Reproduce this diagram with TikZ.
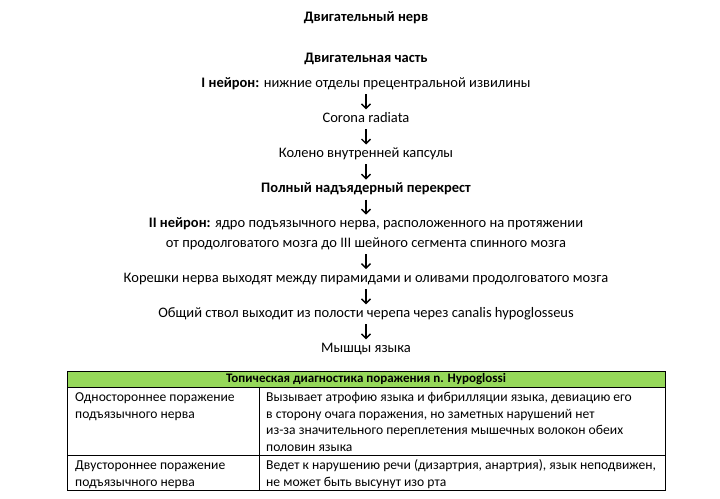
\documentclass[tikz,border=0pt]{standalone}
\usepackage{fontspec}
\setmainfont{Carlito}
\usetikzlibrary{positioning,arrows.meta}
\definecolor{headgreen}{HTML}{96D85A}

\begin{document}
\begin{tikzpicture}[x=1pt, y=-1pt, node distance={21.7pt},
  main/.style = {font=\fontsize{14.5}{19}\selectfont, inner sep=0pt, align=center, text height=10pt, text depth=3pt},
  head/.style = {main, font=\fontsize{14.5}{19}\selectfont\bfseries},
  arr/.style = {-{Straight Barb[length=4.5pt,width=9pt]}, line width=1.4pt, shorten <=3.5pt, shorten >=3pt},
  cell/.style = {font=\fontsize{13.6}{16.5}\selectfont, inner sep=0pt, align=left, anchor=north west},
  grid/.style = {line width=0.9pt}]
\useasboundingbox (0,0) rectangle (720,498);

% motor path
\node[head] (title) at (366,17.5) {Двигательный нерв};
\node[head] (part) at (366,59) {Двигательная часть};
\node[main] (n1) at (366,84) {\textbf{I нейрон:} нижние отделы прецентральной извилины};
\node[main] (n2) [below=of n1] {Corona radiata};
\node[main] (n3) [below=of n2] {Колено внутренней капсулы};
\node[main] (n4) [below=of n3] {\textbf{Полный надъядерный перекрест}};
\node[main] (n5) [below=of n4] {\textbf{II нейрон:} ядро подъязычного нерва, расположенного на протяжении};
\node[main] (n5b) [below=6pt of n5] {от продолговатого мозга до III шейного сегмента спинного мозга};
\node[main] (n6) [below=of n5b] {Корешки нерва выходят между пирамидами и оливами продолговатого мозга};
\node[main] (n7) [below=of n6] {Общий ствол выходит из полости черепа через canalis hypoglosseus};
\node[main] (n8) [below=of n7] {Мышцы языка};

\draw[arr] (n1) -- (n2);
\draw[arr] (n2) -- (n3);
\draw[arr] (n3) -- (n4);
\draw[arr] (n4) -- (n5);
\draw[arr] (n5b) -- (n6);
\draw[arr] (n6) -- (n7);
\draw[arr] (n7) -- (n8);

% table
\fill[headgreen] (67,371) rectangle (665,387);
\draw[grid] (67,371) rectangle (665,490);
\draw[grid] (67,387) -- (665,387);
\draw[grid] (67,455) -- (665,455);
\draw[grid] (259,387) -- (259,490);
\node[inner sep=0pt, font=\fontsize{13}{16}\selectfont\bfseries] (th) at (366,379) {Топическая диагностика поражения n. Hypoglossi};
\node[cell] (l1) at (75,390) {\strut Одностороннее поражение\\подъязычного нерва};
\node[cell] (r1) at (266,390) {\strut Вызывает атрофию языка и фибрилляции языка, девиацию его\\в сторону очага поражения, но заметных нарушений нет\\из-за значительного переплетения мышечных волокон обеих\\половин языка};
\node[cell] (l2) at (75,458) {\strut Двустороннее поражение\\подъязычного нерва};
\node[cell] (r2) at (266,458) {\strut Ведет к нарушению речи (дизартрия, анартрия), язык неподвижен,\\не может быть высунут изо рта};
\end{tikzpicture}
\end{document}
